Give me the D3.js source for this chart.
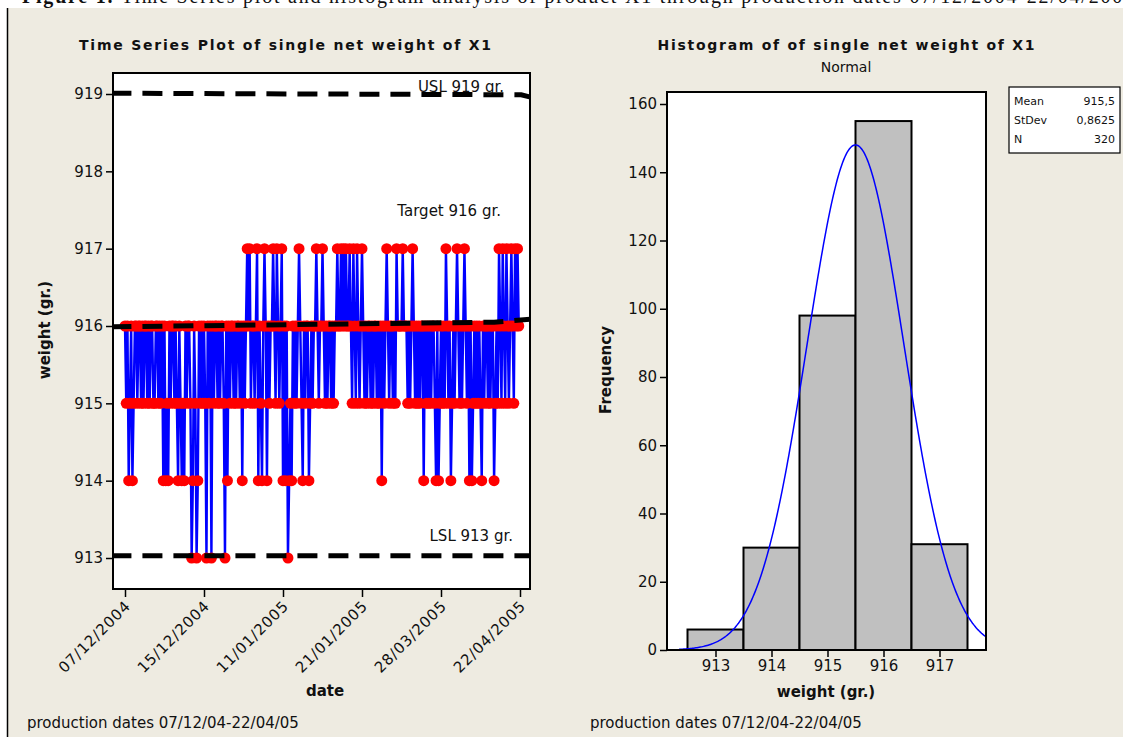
<!DOCTYPE html>
<html lang="en">
<head>
<meta charset="utf-8" />
<script src="https://cdnjs.cloudflare.com/ajax/libs/d3/7.8.5/d3.min.js"></script>
<style>
    body { margin: 0; background: #fff; }
    svg { display: block; }
    text { font-family: 'DejaVu Sans', sans-serif; fill: #111; }
    .tick line { stroke: #000; stroke-width: 1.5; }
    .tick text { font-size: 15px; fill: #111; }
    .bold { font-weight: bold; }
</style>
</head>
<body>
<div id="chart"></div>
<script>
// single net weights of X1, in production order (320 samples)
var weights = [
    916,915,916,914,915,916,914,915,916,916,915,916,916,915,916,915,916,916,915,916,
    915,916,916,915,915,916,916,915,916,915,916,914,916,914,915,914,916,915,916,916,
    915,916,915,914,916,915,914,915,914,916,915,916,916,915,913,914,916,915,913,914,
    916,915,916,915,916,915,913,916,915,916,913,916,915,916,916,915,916,915,916,916,
    915,913,916,914,916,915,916,916,915,916,915,916,916,915,916,914,916,915,916,917,
    916,917,915,916,916,915,916,917,914,916,915,914,916,917,916,914,916,915,916,916,
    917,916,915,917,916,915,916,917,914,916,914,916,913,914,915,914,916,915,916,915,
    916,917,916,915,914,916,915,916,916,914,915,916,915,916,916,917,916,915,916,916,
    917,916,915,916,915,916,916,915,916,915,916,916,917,916,916,917,916,917,916,917,
    916,916,917,916,915,917,916,915,917,916,915,916,917,916,915,916,915,916,916,915,
    916,915,916,916,915,916,915,916,914,916,915,916,917,916,915,916,916,915,916,915,
    917,916,916,916,916,917,916,916,916,915,916,915,916,917,916,915,916,915,916,915,
    916,916,914,916,915,916,915,916,915,916,916,915,914,916,914,915,916,915,916,915,
    917,916,915,916,914,915,916,915,916,917,916,915,916,915,916,917,916,915,916,914,
    916,914,915,916,915,916,915,916,915,914,916,915,916,916,915,916,915,916,916,914,
    915,916,915,917,916,915,917,916,915,917,916,915,916,917,916,915,917,916,917,916
];
var dateLabels = ['07/12/2004', '15/12/2004', '11/01/2005', '21/01/2005', '28/03/2005', '22/04/2005'];
var dateTickIdx = [1, 65, 129, 193, 257, 321];
var weightTicks = [913, 914, 915, 916, 917, 918, 919];

// spec lines (sample position, weight)
var uslIdx = [-10, 322, 332], uslVal = [919.01, 918.99, 918.95];
var targetIdx = [-10, 300, 332], targetVal = [915.99, 916.05, 916.09];
var lslIdx = [-10, 332], lslVal = [913.03, 913.03];

var histBins = [913, 914, 915, 916, 917];
var histCounts = [6, 30, 98, 155, 31];
var freqTicks = [0, 20, 40, 60, 80, 100, 120, 140, 160];
var statNames = ['Mean', 'StDev', 'N'];
var statValues = ['915,5', '0,8625', '320'];
var fitMean = 915.5, fitStDev = 0.8625, fitN = 320;

var width = 1123, height = 737;
var svg = d3.select('#chart').append('svg')
    .attr('width', width).attr('height', height);

// page background
svg.append('rect').attr('width', width).attr('height', height).attr('fill', '#fff');
svg.append('rect').attr('x', 7).attr('y', 8).attr('width', width - 7).attr('height', height - 8)
    .attr('fill', '#eeebe1');
svg.append('line').attr('x1', 7.5).attr('x2', 7.5).attr('y1', 8).attr('y2', height)
    .attr('stroke', '#000').attr('stroke-width', 1.5);

// caption of the paper, cut off at the top of the picture
var cap = svg.append('text').attr('x', 22).attr('y', 3)
    .style('font-family', "'Liberation Serif', serif").style('font-size', '20px')
    .attr('textLength', 1112).attr('lengthAdjust', 'spacing');
cap.append('tspan').style('font-weight', 'bold').text('Figure 1. ');
cap.append('tspan').text('Time Series plot and histogram analysis of product X1 through production dates 07/12/2004-22/04/2005');

// ---------- time series ----------
var ts = { left: 113, right: 530, top: 73, bottom: 589 };
var x = d3.scaleLinear().domain([1, 321]).range([125, 520]);
var y = d3.scaleLinear().domain([913, 919]).range([558, 94]);

svg.append('clipPath').attr('id', 'tsclip').append('rect')
    .attr('x', ts.left).attr('y', ts.top).attr('width', ts.right - ts.left).attr('height', ts.bottom - ts.top);

svg.append('rect').attr('x', ts.left).attr('y', ts.top)
    .attr('width', ts.right - ts.left).attr('height', ts.bottom - ts.top)
    .attr('fill', '#fff');

var plot = svg.append('g').attr('clip-path', 'url(#tsclip)');
var line = d3.line()
    .x(function (d, i) { return x(i + 1); })
    .y(function (d) { return y(d); });
plot.append('path').datum(weights)
    .attr('d', line).attr('fill', 'none')
    .attr('stroke', '#0000ff').attr('stroke-width', 2.4);
plot.selectAll('circle').data(weights).enter().append('circle')
    .attr('cx', function (d, i) { return x(i + 1); })
    .attr('cy', function (d) { return y(d); })
    .attr('r', 5.5).attr('fill', '#ff0000');

function specLine(idx, val) {
    var pts = idx.map(function (d, i) { return [x(d), y(val[i])]; });
    plot.append('path').attr('d', d3.line()(pts))
        .attr('fill', 'none').attr('stroke', '#000')
        .attr('stroke-width', 5).attr('stroke-dasharray', '20 11');
}
specLine(uslIdx, uslVal);
specLine(targetIdx, targetVal);
specLine(lslIdx, lslVal);

svg.append('text').attr('x', 504).attr('y', 92).attr('text-anchor', 'end')
    .style('font-size', '15px').text('USL 919 gr.');
svg.append('text').attr('x', 501).attr('y', 216).attr('text-anchor', 'end')
    .style('font-size', '15px').text('Target 916 gr.');
svg.append('text').attr('x', 513).attr('y', 541).attr('text-anchor', 'end')
    .style('font-size', '15px').text('LSL 913 gr.');

svg.append('rect').attr('x', ts.left).attr('y', ts.top)
    .attr('width', ts.right - ts.left).attr('height', ts.bottom - ts.top)
    .attr('fill', 'none').attr('stroke', '#000').attr('stroke-width', 2);

svg.append('g').attr('transform', 'translate(' + ts.left + ',0)')
    .call(d3.axisLeft(y).tickValues(weightTicks).tickFormat(d3.format('d')).tickSize(7).tickPadding(3))
    .call(function (g) { g.select('.domain').remove(); });

var xAxis = svg.append('g').attr('transform', 'translate(0,' + ts.bottom + ')')
    .call(d3.axisBottom(x).tickValues(dateTickIdx)
        .tickFormat(function (d, i) { return dateLabels[i]; }).tickSize(8));
xAxis.select('.domain').remove();
xAxis.selectAll('text')
    .style('text-anchor', 'end').style('letter-spacing', '0.8px')
    .attr('dx', '0').attr('dy', '0').attr('y', 0)
    .attr('transform', 'translate(6,18) rotate(-45)');

svg.append('text').attr('class', 'bold').attr('x', 285).attr('y', 50)
    .attr('text-anchor', 'middle').style('font-size', '14px')
    .attr('textLength', 412).attr('lengthAdjust', 'spacing')
    .text('Time Series Plot of single net weight of X1');
svg.append('text').attr('class', 'bold').attr('x', 325).attr('y', 696)
    .attr('text-anchor', 'middle').style('font-size', '15px').text('date');
svg.append('text').attr('class', 'bold')
    .attr('transform', 'translate(50,330) rotate(-90)')
    .attr('text-anchor', 'middle').style('font-size', '15px').text('weight (gr.)');
svg.append('text').attr('x', 27).attr('y', 728).style('font-size', '15px')
    .text('production dates 07/12/04-22/04/05');

// ---------- histogram ----------
var hs = { left: 667, right: 986, top: 92, bottom: 650 };
var hx = d3.scaleLinear().domain([913, 917]).range([715.5, 939.5]);
var hy = d3.scaleLinear().domain([0, 160]).range([650, 104]);

svg.append('clipPath').attr('id', 'hclip').append('rect')
    .attr('x', hs.left).attr('y', hs.top).attr('width', hs.right - hs.left).attr('height', hs.bottom - hs.top);
svg.append('rect').attr('x', hs.left).attr('y', hs.top)
    .attr('width', hs.right - hs.left).attr('height', hs.bottom - hs.top).attr('fill', '#fff');

var hplot = svg.append('g').attr('clip-path', 'url(#hclip)');
hplot.selectAll('rect').data(histBins).enter().append('rect')
    .attr('x', function (d) { return hx(d - 0.5); })
    .attr('width', function (d) { return hx(d + 0.5) - hx(d - 0.5); })
    .attr('y', function (d, i) { return hy(histCounts[i]); })
    .attr('height', function (d, i) { return hy(0) - hy(histCounts[i]); })
    .attr('fill', '#c0c0c0').attr('stroke', '#000').attr('stroke-width', 2);

// fitted normal curve from the summary statistics
var curveX = d3.range(912.35, 917.9, 0.02);
var curve = d3.line()
    .x(function (d) { return hx(d); })
    .y(function (d) {
        var z = (d - fitMean) / fitStDev;
        return hy(fitN / (fitStDev * Math.sqrt(2 * Math.PI)) * Math.exp(-0.5 * z * z));
    });
hplot.append('path').datum(curveX).attr('d', curve)
    .attr('fill', 'none').attr('stroke', '#0000ff').attr('stroke-width', 1.5);

svg.append('rect').attr('x', hs.left).attr('y', hs.top)
    .attr('width', hs.right - hs.left).attr('height', hs.bottom - hs.top)
    .attr('fill', 'none').attr('stroke', '#000').attr('stroke-width', 2);

svg.append('g').attr('transform', 'translate(' + hs.left + ',0)')
    .call(d3.axisLeft(hy).tickValues(freqTicks).tickSize(7).tickPadding(3))
    .call(function (g) { g.select('.domain').remove(); });
svg.append('g').attr('transform', 'translate(0,' + hs.bottom + ')')
    .call(d3.axisBottom(hx).tickValues(histBins).tickFormat(d3.format('d')).tickSize(7).tickPadding(3))
    .call(function (g) { g.select('.domain').remove(); });

svg.append('text').attr('class', 'bold').attr('x', 846).attr('y', 50)
    .attr('text-anchor', 'middle').style('font-size', '14px')
    .attr('textLength', 377).attr('lengthAdjust', 'spacing')
    .text('Histogram of of single net weight of X1');
svg.append('text').attr('x', 846).attr('y', 72)
    .attr('text-anchor', 'middle').style('font-size', '14px').text('Normal');
svg.append('text').attr('class', 'bold').attr('x', 826).attr('y', 697)
    .attr('text-anchor', 'middle').style('font-size', '15px').text('weight (gr.)');
svg.append('text').attr('class', 'bold')
    .attr('transform', 'translate(611,370) rotate(-90)')
    .attr('text-anchor', 'middle').style('font-size', '15px').text('Frequency');
svg.append('text').attr('x', 590).attr('y', 728).style('font-size', '15px')
    .text('production dates 07/12/04-22/04/05');

// stats box
svg.append('rect').attr('x', 1009).attr('y', 87).attr('width', 111).attr('height', 66)
    .attr('fill', '#fff').attr('stroke', '#000').attr('stroke-width', 1.2);
statNames.forEach(function (s, i) {
    svg.append('text').attr('x', 1014).attr('y', 105 + i * 19)
        .style('font-size', '11px').text(s);
    svg.append('text').attr('x', 1115).attr('y', 105 + i * 19)
        .attr('text-anchor', 'end').style('font-size', '11px').text(statValues[i]);
});
</script>
</body>
</html>
